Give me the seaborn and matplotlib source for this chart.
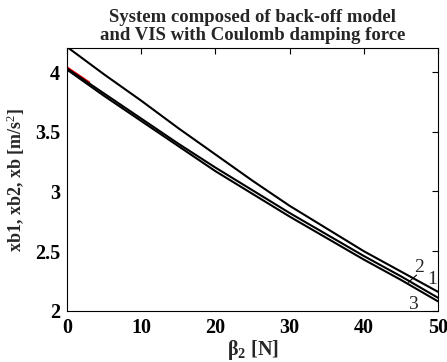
import numpy as np
import pandas as pd
import matplotlib
matplotlib.use("Agg")
import matplotlib.pyplot as plt
import seaborn as sns

beta = [0, 5, 10, 15, 20, 25, 30, 35, 40, 45, 50]
line1 = [4.21, 3.98, 3.76, 3.53, 3.31, 3.09, 2.88, 2.69, 2.50, 2.33, 2.16]
line2 = [4.03, 3.82, 3.61, 3.40, 3.20, 3.01, 2.82, 2.64, 2.46, 2.29, 2.11]
line3 = [4.02, 3.80, 3.59, 3.38, 3.17, 2.98, 2.79, 2.61, 2.43, 2.26, 2.08]
red_beta = [0, 1, 2, 3]
red_vals = [4.04, 3.998, 3.956, 3.914]

sns.set_theme(style="white")
plt.rcParams['font.family'] = ['Liberation Serif', 'DejaVu Serif']
plt.rcParams['mathtext.fontset'] = 'custom'
plt.rcParams['mathtext.rm'] = 'Liberation Serif'
plt.rcParams['mathtext.bf'] = 'Liberation Serif:bold'
plt.rcParams['mathtext.it'] = 'Liberation Serif:italic'

df = pd.DataFrame({
    "beta": beta * 3,
    "val": line1 + line2 + line3,
    "curve": ["1"] * len(beta) + ["2"] * len(beta) + ["3"] * len(beta),
})
dfr = pd.DataFrame({"beta": red_beta, "val": red_vals})

fig = plt.figure(figsize=(4.47, 3.62), dpi=100)
ax = fig.add_axes([0.15, 0.141, 0.83, 0.726])

sns.lineplot(data=dfr, x="beta", y="val", color="red", lw=1.4, ax=ax, zorder=1)
sns.lineplot(data=df, x="beta", y="val", units="curve", estimator=None,
             color="black", lw=1.5, ax=ax, zorder=2)

ax.set_xlim(0, 50)
ax.set_ylim(2, 4.2)
ax.set_xticks([0, 10, 20, 30, 40, 50])
ax.set_yticks([2, 2.5, 3, 3.5, 4])
ax.set_yticklabels(["2", "2.5", "3", "3.5", "4"])
ax.tick_params(direction="in", length=4, width=0.8, top=True, right=True,
               labelsize=14.5, colors="black", pad=5)
for lab in ax.get_xticklabels() + ax.get_yticklabels():
    lab.set_fontweight("bold")
for s in ax.spines.values():
    s.set_color("black")
    s.set_linewidth(0.8)

ax.set_xlabel(r"$\mathbf{\beta_2}$ [N]", fontsize=14.5, fontweight="bold", labelpad=0)
ax.set_ylabel(r"xb1, xb2, xb [m/s$^2$]", fontsize=13, fontweight="bold", labelpad=6)
ax.set_title("System composed of back-off model\nand VIS with Coulomb damping force",
             fontsize=13.5, fontweight="bold", pad=6, linespacing=1.1)

ax.text(49.2, 2.26, "1", fontsize=14, ha="center", va="center")
ax.text(47.4, 2.36, "2", fontsize=14, ha="center", va="center")
ax.plot([46.0, 47.1], [2.24, 2.30], color="black", lw=0.8)
ax.text(46.6, 2.05, "3", fontsize=14, ha="center", va="center")

fig.savefig("out.png", dpi=100)
